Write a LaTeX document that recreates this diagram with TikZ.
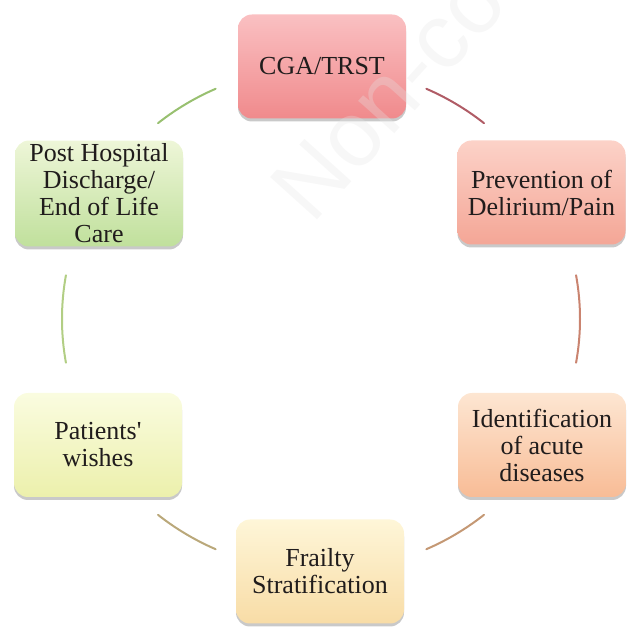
\documentclass[tikz,border=0pt]{standalone}
\usepackage{fontspec}
\setmainfont{Liberation Serif}
\newfontfamily\wmfont{Liberation Sans}
\usetikzlibrary{shadows,calc}
\definecolor{arcA}{RGB}{176,92,102}
\definecolor{arcB}{RGB}{202,132,112}
\definecolor{arcC}{RGB}{196,152,116}
\definecolor{arcD}{RGB}{186,168,122}
\definecolor{arcE}{RGB}{178,206,132}
\definecolor{arcF}{RGB}{152,192,112}
\definecolor{aT}{RGB}{250,192,194}\definecolor{aB}{RGB}{240,138,140}
\definecolor{bT}{RGB}{252,210,200}\definecolor{bB}{RGB}{244,166,150}
\definecolor{cT}{RGB}{253,230,210}\definecolor{cB}{RGB}{248,188,150}
\definecolor{dT}{RGB}{254,246,216}\definecolor{dB}{RGB}{248,220,166}
\definecolor{eT}{RGB}{250,252,224}\definecolor{eB}{RGB}{236,240,172}
\definecolor{fT}{RGB}{238,246,216}\definecolor{fB}{RGB}{192,224,156}
\definecolor{txt}{RGB}{32,28,28}
\tikzset{
  box/.style={rounded corners=14pt, minimum width=168pt, minimum height=104pt,
    align=center, text=txt, font=\fontsize{26}{27}\selectfont,
    drop shadow={shadow xshift=0pt, shadow yshift=-3pt, opacity=0.3, fill=black!70}},
  link/.style={line width=2pt, line cap=round},
}
\begin{document}
\begin{tikzpicture}[x=1pt,y=1pt]
\useasboundingbox (0,0) rectangle (627,633);
\coordinate (c) at (321,314);
\node[box, top color=aT, bottom color=aB] (cga) at (322,566.5) {CGA/TRST};
\node[box, top color=bT, bottom color=bB] (prev) at (541.5,440.5) {Prevention of\\Delirium/Pain};
\node[box, top color=cT, bottom color=cB] (ident) at (542,188) {Identification\\of acute\\diseases};
\node[box, top color=dT, bottom color=dB] (frail) at (320,61.5) {Frailty\\Stratification};
\node[box, top color=eT, bottom color=eB] (wish) at (98,188) {Patients\textquotesingle\\wishes};
\node[box, top color=fT, bottom color=fB] (post) at (99,439.5) {Post Hospital\\Discharge/\\End of Life\\Care};
\draw[link, arcA] ($(c)+(66:259 and 252)$) arc[start angle=66, end angle=51, x radius=259, y radius=252];
\draw[link, arcB] ($(c)+(10:259 and 252)$) arc[start angle=10, end angle=-10, x radius=259, y radius=252];
\draw[link, arcC] ($(c)+(-51:259 and 252)$) arc[start angle=-51, end angle=-66, x radius=259, y radius=252];
\draw[link, arcD] ($(c)+(-114:259 and 252)$) arc[start angle=-114, end angle=-129, x radius=259, y radius=252];
\draw[link, arcE] ($(c)+(170:259 and 252)$) arc[start angle=170, end angle=190, x radius=259, y radius=252];
\draw[link, arcF] ($(c)+(129:259 and 252)$) arc[start angle=129, end angle=114, x radius=259, y radius=252];
\node[anchor=base west, rotate=48, text=gray!20, opacity=0.3, font=\wmfont\fontsize{92}{92}\selectfont, inner sep=0pt] (wm) at (312,407) {Non-co};
\end{tikzpicture}
\end{document}
